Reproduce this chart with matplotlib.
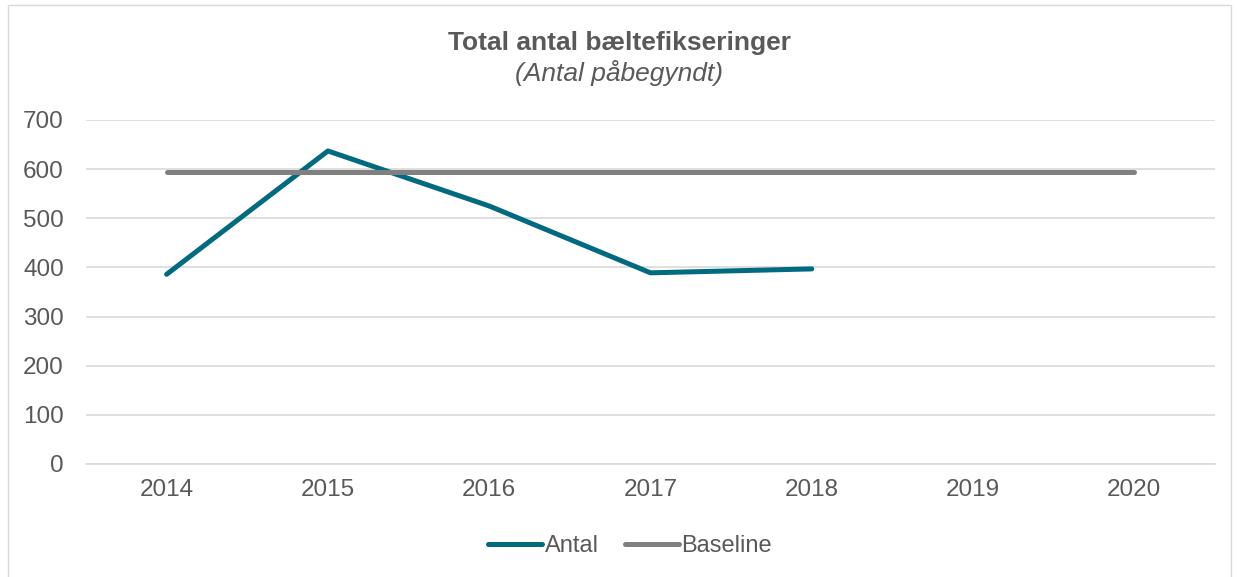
import matplotlib
matplotlib.use("Agg")
import matplotlib.pyplot as plt
from matplotlib.patches import Rectangle

years = ["2014", "2015", "2016", "2017", "2018", "2019", "2020"]
antal = [386, 637, 525, 389, 397]
baseline = [594, 594, 594, 594, 594, 594, 594]

plt.rcParams["font.family"] = ["Liberation Sans", "DejaVu Sans"]
text_color = "#595959"

fig = plt.figure(figsize=(12.38, 5.77), dpi=100)
ax = fig.add_axes([86 / 1238, 1 - 464 / 577, (1215 - 86) / 1238, (464 - 120) / 577])

x = list(range(len(years)))
ax.plot(x[:len(antal)], antal, color="#006A80", lw=3.6, solid_capstyle="round",
        solid_joinstyle="round", label="Antal")
ax.plot(x, baseline, color="#808080", lw=3.6, solid_capstyle="round", label="Baseline")

ax.set_xlim(-0.5, len(years) - 0.5)
ax.set_ylim(0, 700)
ax.set_yticks(range(0, 701, 100))
ax.set_xticks(x, years)
ax.grid(axis="y", color="#D9D9D9", lw=1.2)
ax.set_axisbelow(True)
for s in ("top", "right", "left"):
    ax.spines[s].set_visible(False)
ax.spines["bottom"].set_color("#D9D9D9")
ax.spines["bottom"].set_linewidth(1.2)
ax.tick_params(length=0, labelsize=17.5, colors=text_color)
ax.tick_params(axis="x", pad=11)
ax.tick_params(axis="y", pad=16)

fig.text(0.5, 1 - 43 / 577, "Total antal bæltefikseringer", ha="center", va="center",
         fontsize=19, fontweight="bold", color=text_color)
fig.text(0.5, 1 - 73 / 577, "(Antal påbegyndt)", ha="center", va="center",
         fontsize=19, style="italic", color=text_color)

fig.legend(loc="center", bbox_to_anchor=(630 / 1238, 1 - 546 / 577), ncol=2, frameon=False,
           fontsize=17, labelcolor=text_color, handlelength=2.3, handletextpad=0.1,
           columnspacing=1.1)

fig.patches.append(Rectangle((8 / 1238, -0.01), (1231 - 8) / 1238, 1 - 5 / 577 + 0.01,
                             transform=fig.transFigure, fill=False, edgecolor="#D9D9D9", lw=1))

fig.savefig("out.png", dpi=100)
